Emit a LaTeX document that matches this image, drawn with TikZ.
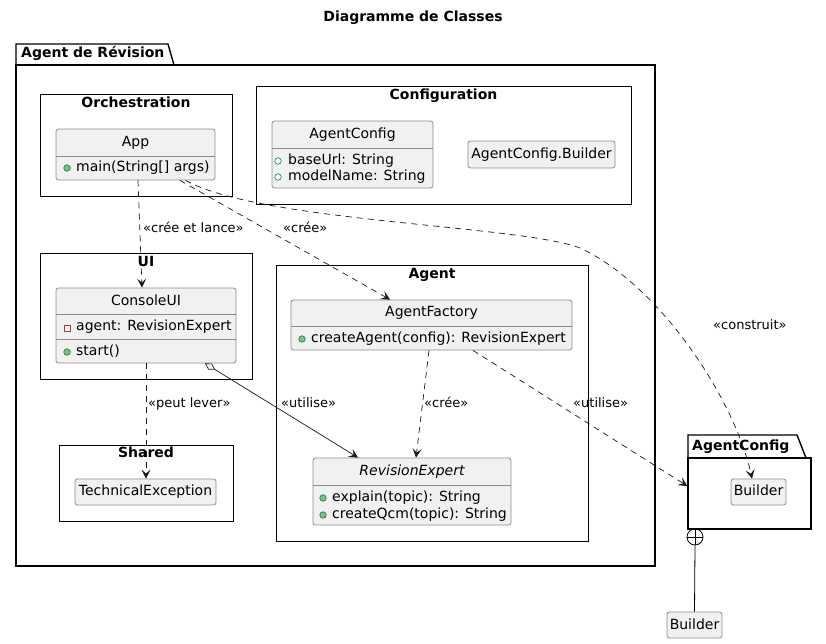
\documentclass[tikz,border=0pt]{standalone}
\usepackage{fontspec}
\setmainfont{DejaVu Sans}
\usetikzlibrary{arrows.meta,positioning}
\definecolor{classfill}{HTML}{F1F1F1}
\definecolor{classline}{HTML}{8C8C8C}
\definecolor{arrowline}{HTML}{181818}
\definecolor{pubfill}{HTML}{84BE84}
\definecolor{publine}{HTML}{038048}
\definecolor{privline}{HTML}{C82930}
\tikzset{
  outerpkg/.style={draw=black, line width=1.4pt},
  pkgbox/.style={draw=black, line width=0.9pt, inner sep=0pt},
  pkgtitle/.style={font=\bfseries\fontsize{14}{16}\selectfont, inner sep=0pt,
    text height=10pt, text depth=3pt},
  classbox/.style={draw=classline, fill=classfill, rounded corners=2.5pt,
    line width=0.8pt, inner sep=0pt},
  sepline/.style={draw=classline, line width=0.8pt},
  cname/.style={font=\fontsize{14}{16}\selectfont, inner sep=0pt,
    text height=10pt, text depth=3pt},
  member/.style={cname, anchor=west},
  lbl/.style={font=\fontsize{13}{15}\selectfont, inner sep=0pt, anchor=west,
    text height=9pt, text depth=3pt},
  pubm/.style={circle, fill=pubfill, draw=publine, line width=0.6pt,
    inner sep=0pt, minimum size=6.5pt},
  pubf/.style={circle, fill=white, draw=publine, line width=0.6pt,
    inner sep=0pt, minimum size=6.5pt},
  privf/.style={rectangle, fill=white, draw=privline, line width=0.6pt,
    inner sep=0pt, minimum size=6pt},
  dep/.style={draw=arrowline, line width=0.7pt, dash pattern=on 6pt off 5pt,
    -{Stealth[length=9pt, width=9pt, inset=4pt]}},
  uses/.style={draw=arrowline, line width=0.7pt,
    {Diamond[open, length=12pt, width=7pt]}-{Stealth[length=9pt, width=9pt, inset=4pt]}}
}
\begin{document}
\begin{tikzpicture}[x=1pt, y=-1pt]
  \useasboundingbox (0,0) rectangle (826,643);
  \node[font=\bfseries\fontsize{14}{16}\selectfont, inner sep=0pt] (title) at (413,18) {Diagramme de Classes};

  % outer package
  \draw[outerpkg] (16,65) -- (16,44) -- (168,44) -- (174,65);
  \draw[outerpkg] (16,65) rectangle (655,566);
  \node[pkgtitle, anchor=west] (revpkg) at (21,54) {Agent de Révision};

  % sub packages
  \node[pkgbox, minimum width=192pt, minimum height=102pt] (Orch) at (136,145) {};
  \node[pkgtitle] at (136,104) {Orchestration};
  \node[pkgbox, minimum width=375pt, minimum height=118pt] (Conf) at (443.5,145) {};
  \node[pkgtitle] at (443.5,96) {Configuration};
  \node[pkgbox, minimum width=212pt, minimum height=126pt] (UIpkg) at (146,316) {};
  \node[pkgtitle] at (146,263) {UI};
  \node[pkgbox, minimum width=174pt, minimum height=76pt] (Shared) at (146,483) {};
  \node[pkgtitle] at (146,454) {Shared};
  \node[pkgbox, minimum width=312pt, minimum height=276pt] (Agentpkg) at (432,403) {};
  \node[pkgtitle] at (432,275) {Agent};

  % AgentConfig package
  \draw[outerpkg] (688,458) -- (688,435) -- (797,435) -- (806,458);
  \node[pkgbox, line width=1.4pt, minimum width=123pt, minimum height=71pt] (CfgPkg) at (749.5,493.5) {};
  \node[pkgtitle, anchor=west] at (692,447) {AgentConfig};

  % classes
  \node[classbox, minimum width=159pt, minimum height=51pt] (App) at (135.5,154.5) {};
  \draw[sepline] (56,156) -- (215,156);
  \node[cname] at (135.5,143) {App};
  \node[pubm] at (67,168) {};
  \node[member] at (76,168) {main(String[] args)};

  \node[classbox, minimum width=161pt, minimum height=67pt] (AgentConfig) at (352.5,154.5) {};
  \draw[sepline] (272,148) -- (433,148);
  \node[cname] at (352.5,135) {AgentConfig};
  \node[pubf] at (278,161) {};
  \node[member] at (288,161) {baseUrl: String};
  \node[pubf] at (278,177) {};
  \node[member] at (288,177) {modelName: String};

  \node[classbox, minimum width=147pt, minimum height=27pt] (CfgBuilder) at (541.5,154.5) {};
  \node[cname] at (541.5,155) {AgentConfig.Builder};

  \node[classbox, minimum width=180pt, minimum height=75pt] (ConsoleUI) at (146,325.5) {};
  \draw[sepline] (56,314) -- (236,314);
  \draw[sepline] (56,339) -- (236,339);
  \node[cname] at (146,302) {ConsoleUI};
  \node[privf] at (67,328) {};
  \node[member] at (76,327) {agent: RevisionExpert};
  \node[pubm] at (67,352) {};
  \node[member] at (76,352) {start()};

  \node[classbox, minimum width=141pt, minimum height=26pt] (TechExc) at (145.5,492) {};
  \node[cname] at (145.5,492) {TechnicalException};

  \node[classbox, minimum width=281pt, minimum height=50pt] (Factory) at (431.5,325) {};
  \draw[sepline] (291,326) -- (572,326);
  \node[cname] at (431.5,313) {AgentFactory};
  \node[pubm] at (302,339) {};
  \node[member] at (311,339) {createAgent(config): RevisionExpert};

  \node[classbox, minimum width=198pt, minimum height=67pt] (Expert) at (412,491.5) {};
  \draw[sepline] (313,485) -- (511,485);
  \node[cname, font=\itshape\fontsize{14}{16}\selectfont] at (412,472) {RevisionExpert};
  \node[pubm] at (323,498) {};
  \node[member] at (332,498) {explain(topic): String};
  \node[pubm] at (323,515) {};
  \node[member] at (332,515) {createQcm(topic): String};

  \node[classbox, minimum width=55pt, minimum height=26pt] (BuilderIn) at (758.5,492) {};
  \node[cname] at (758.5,492) {Builder};
  \node[classbox, minimum width=55pt, minimum height=26pt] (BuilderOut) at (694.5,625) {};
  \node[cname] at (694.5,626) {Builder};

  % connectors
  \draw[dep] ([xshift=2.5pt]App.south) -- ([xshift=-4pt]ConsoleUI.north);
  \node[lbl] at (143,229) {«crée et lance»};
  \draw[dep] ([xshift=44.5pt]App.south) -- ([xshift=-41.5pt]Factory.north);
  \node[lbl] at (283,229) {«crée»};
  \draw[dep] ([xshift=50pt]App.south) .. controls (260,222) and (520,225) .. (580,248)
    .. controls (660,285) and (735,400) .. ([xshift=-6.5pt]BuilderIn.north);
  \node[lbl] at (713,326) {«construit»};
  \draw[dep] (ConsoleUI.south) -- (ConsoleUI.south |- TechExc.north);
  \node[lbl] at (148,404) {«peut lever»};
  \draw[uses] ([xshift=59pt]ConsoleUI.south) -- ([xshift=-54pt]Expert.north);
  \node[lbl] at (281,404) {«utilise»};
  \draw[dep] ([xshift=-2.5pt]Factory.south) -- ([xshift=4pt]Expert.north);
  \node[lbl] at (424,404) {«crée»};
  \draw[dep] ([xshift=41.5pt]Factory.south) -- ([yshift=7.5pt]CfgPkg.west);
  \node[lbl] at (573,404) {«utilise»};

  % nesting
  \node[circle, draw=black, line width=0.8pt, minimum size=16pt, inner sep=0pt] (nest) at (695,537) {};
  \draw[line width=0.8pt] (nest.north) -- (nest.south) (nest.west) -- (nest.east);
  \draw[line width=0.8pt] (nest.south) -- (BuilderOut.north);
\end{tikzpicture}
\end{document}
